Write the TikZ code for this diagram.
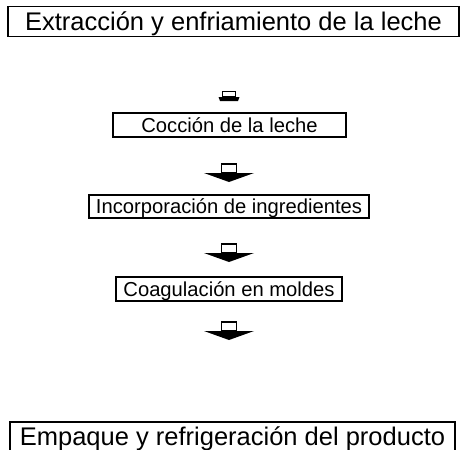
\documentclass[tikz,border=0pt]{standalone}
\usepackage{fontspec}
\setmainfont{Liberation Sans}
\usetikzlibrary{arrows.meta}

\tikzset{
  paso/.style={draw, line width=1.4pt, inner sep=0pt, text height=18pt, text depth=0pt,
    font=\fontsize{25.5}{30}\selectfont},
  pasochico/.style={paso, text height=14.5pt, font=\fontsize{20.2}{24}\selectfont},
  flecha/.pic={
    \fill (-25,0) -- (25,0) -- (0,9) -- cycle;
    \draw [line width=1.2pt, fill=white] (-7.5,-9) rectangle (7.5,0);
  },
  flechita/.pic={
    \fill (-10.5,1) -- (10.5,1) -- (9,5) -- (-9,5) -- cycle;
    \draw [line width=1.2pt, fill=white] (-6.5,-4.5) rectangle (6.5,1);
  }
}

\begin{document}
\begin{tikzpicture}[x=1pt,y=-1pt]
            \useasboundingbox (0,0) rectangle (461,450);
            \node [paso, minimum width=451pt, minimum height=30pt] (extraccion) at (233.5,21.5) {Extracción y enfriamiento de la leche};
            \node [pasochico, minimum width=233pt, minimum height=24pt] (coccion) at (229.5,125) {Cocción de la leche};
            \node [pasochico, minimum width=280pt, minimum height=23pt] (ingredientes) at (229,206.5) {Incorporación de ingredientes};
            \node [pasochico, minimum width=226pt, minimum height=24pt] (coagulacion) at (229,289) {Coagulación en moldes};
            \node [paso, minimum width=445pt, minimum height=29pt] (empaque) at (232.5,436.5) {Empaque y refrigeración del producto};
            % flechas entre pasos
            \pic at (229,96) {flechita};
            \pic at (229,173) {flecha};
            \pic at (229,253) {flecha};
            \pic at (229,331) {flecha};
\end{tikzpicture}
\end{document}
